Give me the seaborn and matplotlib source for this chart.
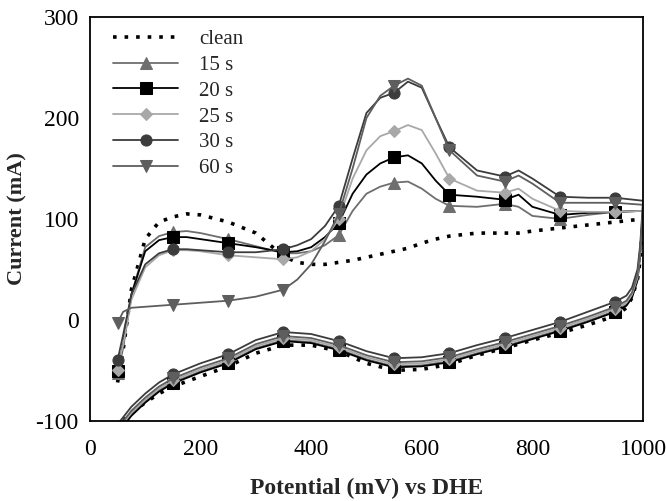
import numpy as np
import pandas as pd
import seaborn as sns
import matplotlib
matplotlib.use("Agg")
import matplotlib.pyplot as plt
from matplotlib.ticker import MultipleLocator

sns.set_theme(style="white")
plt.rcParams['font.family'] = ['Liberation Serif', 'DejaVu Serif']
plt.rcParams['axes.unicode_minus'] = False

# potential grids (mV vs DHE)
x_up = [50, 60, 75, 100, 125, 150, 175, 200, 250, 300, 350, 375, 400, 425, 450, 475, 500,
        525, 550, 575, 600, 625, 650, 700, 750, 775, 800, 850, 900, 950, 1000]
x_down = [995, 990, 980, 970, 950, 900, 850, 800, 750, 700, 650, 600, 550, 500, 450, 400,
          350, 300, 250, 200, 150, 125, 100, 75, 55]

# anodic (upper) branches, current (mA)
clean_up = [-62, -30, 30, 80, 97, 102, 105, 104, 97, 86, 63, 57, 55, 55, 57, 59, 62,
            65, 68, 71, 76, 80, 83, 86, 86, 86, 88, 91, 94, 97, 100]
s15_up = [-53, -28, 25, 72, 83, 87, 88, 86, 80, 73, 66, 66, 68, 74, 84, 108, 125,
          132, 136, 137, 130, 120, 113, 112, 115, 112, 103, 100, 104, 107, 108]
s20_up = [-51, -25, 25, 68, 79, 82, 82, 80, 76, 72, 67, 68, 72, 82, 96, 125, 144,
          155, 161, 163, 155, 138, 124, 122, 119, 124, 112, 104, 106, 107, 108]
s25_up = [-50, -25, 20, 52, 64, 69, 69, 68, 64, 62, 60, 62, 68, 80, 100, 140, 168,
          182, 187, 193, 188, 165, 140, 128, 126, 130, 120, 108, 107, 107, 108]
s30_up = [-40, -15, 25, 55, 66, 70, 70, 69, 67, 67, 70, 74, 80, 93, 113, 160, 205,
          220, 225, 236, 230, 200, 171, 148, 142, 148, 140, 122, 121, 121, 118]
s60_up = [-3, 8, 12, 13, 14, 15, 16, 17, 19, 23, 30, 40, 55, 78, 105, 150, 200,
          222, 232, 239, 232, 200, 168, 143, 137, 143, 135, 116, 116, 116, 114]

# cathodic (lower) branches, current (mA)
clean_down = [60, 40, 22, 12, 4, -5, -13, -20, -28, -35, -44, -49, -50, -43, -31, -25,
              -25, -33, -46, -56, -66, -73, -82, -92, -103]
s15_down = [66, 40, 23, 15, 9, -1, -10, -18, -26, -33, -41, -45, -46, -39, -29, -22,
            -20, -28, -42, -51, -62, -70, -81, -94, -108]
s20_down = [65, 39, 22, 14, 8, -2, -11, -19, -27, -34, -42, -46, -47, -40, -30, -23,
            -21, -29, -43, -52, -63, -71, -82, -95, -109]
s25_down = [68, 42, 25, 17, 11, 1, -8, -16, -24, -31, -39, -43, -44, -37, -27, -20,
            -18, -26, -40, -49, -60, -68, -79, -92, -106]
s30_down = [75, 50, 32, 24, 18, 8, -2, -10, -18, -25, -33, -37, -38, -31, -21, -14,
            -12, -20, -34, -43, -54, -62, -73, -86, -100]
s60_down = [70, 45, 27, 19, 13, 3, -6, -14, -22, -29, -37, -41, -42, -35, -25, -18,
            -16, -24, -38, -47, -58, -66, -77, -90, -104]

labels = ["clean", "15 s", "20 s", "25 s", "30 s", "60 s"]
marker_x = [50, 150, 250, 350, 450, 550, 650, 750, 850, 950]

series = [
    ("clean", clean_up, clean_down, dict(color="black", linestyle=(0, (1, 2.2)), lw=2.6, marker=None)),
    ("15 s", s15_up, s15_down, dict(color="#6e6e6e", lw=1.3, marker="^", ms=8)),
    ("20 s", s20_up, s20_down, dict(color="#000000", lw=1.3, marker="s", ms=8)),
    ("25 s", s25_up, s25_down, dict(color="#a8a8a8", lw=1.3, marker="D", ms=6.5)),
    ("30 s", s30_up, s30_down, dict(color="#3c3c3c", lw=1.3, marker="o", ms=8)),
    ("60 s", s60_up, s60_down, dict(color="#5e5e5e", lw=1.3, marker="v", ms=8)),
]

fig = plt.figure(figsize=(6.66, 5.01), dpi=100)
ax = fig.add_axes([0.135, 0.16, 0.8305, 0.806])

for name, up, down, st in series:
    xs = x_up + x_down
    ys = up + down
    df = pd.DataFrame({"E": xs, "I": ys})
    kw = dict(color=st["color"], linestyle=st.get("linestyle", "-"), linewidth=st["lw"])
    if st["marker"]:
        idx = [i for i, v in enumerate(xs) if v in marker_x]
        kw.update(marker=st["marker"], markersize=st["ms"], markevery=idx,
                  markeredgecolor=st["color"], markerfacecolor=st["color"])
    sns.lineplot(data=df, x="E", y="I", sort=False, estimator=None, ax=ax, label=name, **kw)

ax.set_xlim(0, 1000)
ax.set_ylim(-100, 300)
ax.xaxis.set_major_locator(MultipleLocator(200))
ax.xaxis.set_minor_locator(MultipleLocator(100))
ax.yaxis.set_major_locator(MultipleLocator(100))
ax.yaxis.set_minor_locator(MultipleLocator(50))
ax.tick_params(which="both", direction="in", length=4, width=0.8, colors="black",
               labelsize=17, top=False, right=False)
ax.tick_params(axis="x", which="major", pad=13)
ax.tick_params(axis="y", which="major", pad=8)
for s in ax.spines.values():
    s.set_color("black")
    s.set_linewidth(1.3)

ax.set_xlabel("Potential (mV) vs DHE", fontsize=17, fontweight="bold", labelpad=13)
ax.set_ylabel("Current (mA)", fontsize=16, fontweight="bold", labelpad=6)

leg = ax.legend(loc="upper left", bbox_to_anchor=(0.02, 1.0), frameon=False, fontsize=15,
                handlelength=3.1, handletextpad=1.0, labelspacing=0.3, borderaxespad=0.2)

fig.savefig("out.png", dpi=100)
